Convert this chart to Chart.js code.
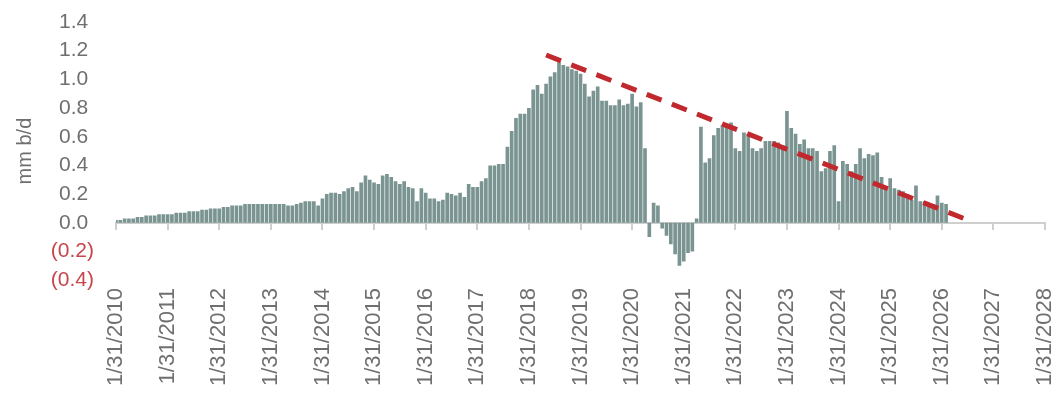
<!DOCTYPE html>
<html>
<head>
<meta charset="utf-8">
<script src="https://cdn.jsdelivr.net/npm/chart.js@4.4.1/dist/chart.umd.min.js"></script>
<style>
  html, body { margin: 0; padding: 0; background: #fff; }
  #wrap { width: 1055px; height: 396px; }
</style>
</head>
<body>
<div id="wrap"><canvas id="supplyChart" width="1055" height="396"></canvas></div>
<script>
// === DATA ===
// monthly change, mm b/d, Jan 2010 .. Feb 2026
const monthlyChange = [
  0.02, 0.02, 0.03, 0.03, 0.03, 0.04, 0.04, 0.05, 0.05, 0.05, 0.06, 0.06, // 2010
  0.06, 0.06, 0.07, 0.07, 0.07, 0.08, 0.08, 0.08, 0.09, 0.09, 0.10, 0.10, // 2011
  0.10, 0.11, 0.11, 0.12, 0.12, 0.12, 0.13, 0.13, 0.13, 0.13, 0.13, 0.13, // 2012
  0.13, 0.13, 0.13, 0.13, 0.12, 0.12, 0.13, 0.14, 0.15, 0.15, 0.15, 0.12, // 2013
  0.17, 0.20, 0.21, 0.21, 0.20, 0.22, 0.24, 0.25, 0.22, 0.28, 0.33, 0.30, // 2014
  0.28, 0.27, 0.33, 0.34, 0.32, 0.29, 0.27, 0.29, 0.25, 0.24, 0.15, 0.24, // 2015
  0.21, 0.17, 0.17, 0.15, 0.16, 0.21, 0.20, 0.19, 0.21, 0.18, 0.27, 0.25, // 2016
  0.25, 0.29, 0.31, 0.40, 0.40, 0.41, 0.41, 0.53, 0.64, 0.73, 0.76, 0.76, // 2017
  0.80, 0.93, 0.96, 0.90, 0.97, 1.02, 1.05, 1.12, 1.10, 1.09, 1.07, 1.06, // 2018
  1.04, 0.97, 0.88, 0.92, 0.95, 0.85, 0.85, 0.82, 0.82, 0.86, 0.82, 0.83, // 2019
  0.90, 0.81, 0.84, 0.52, -0.10, 0.14, 0.12, -0.04, -0.09, -0.15, -0.22, -0.30, // 2020
  -0.27, -0.21, -0.20, 0.03, 0.67, 0.42, 0.45, 0.61, 0.66, 0.68, 0.69, 0.70, // 2021
  0.52, 0.50, 0.63, 0.62, 0.52, 0.50, 0.52, 0.57, 0.57, 0.57, 0.56, 0.54, // 2022
  0.78, 0.66, 0.62, 0.55, 0.58, 0.52, 0.52, 0.50, 0.36, 0.38, 0.50, 0.54, // 2023
  0.15, 0.43, 0.41, 0.36, 0.41, 0.52, 0.45, 0.48, 0.47, 0.49, 0.32, 0.25, // 2024
  0.31, 0.24, 0.23, 0.22, 0.20, 0.16, 0.26, 0.15, 0.15, 0.11, 0.13, 0.19, // 2025
  0.14, 0.13                                                               // 2026
];

// trend line end points: [month label, value]
const trendStart = ["5/31/2018", 1.17];
const trendEnd = ["7/31/2026", 0.02];

const firstYear = 2010;
const lastYear = 2028;

// y axis ticks
const yMin = -0.4;
const yMax = 1.4;
const yStep = 0.2;

// month-end labels, Jan 2010 .. Jan 2028
const monthLabels = [];
for (let y = firstYear; y <= lastYear; y++) {
  for (let m = 0; m < 12; m++) {
    if (y === lastYear && m > 0) break;
    const day = new Date(y, m + 1, 0).getDate();
    monthLabels.push((m + 1) + "/" + day + "/" + y);
  }
}

const trendData = monthLabels.map(l => {
  if (l === trendStart[0]) return trendStart[1];
  if (l === trendEnd[0]) return trendEnd[1];
  return null;
});

const textGray = "#6f6f6f";
const negRed = "#c8454c";
const fontFamily = "Arial, 'Liberation Sans', sans-serif";

new Chart(document.getElementById("supplyChart"), {
  data: {
    labels: monthLabels,
    datasets: [
      {
        type: "line",
        label: "Trend",
        data: trendData,
        spanGaps: true,
        borderColor: "#c0292e",
        borderWidth: 5,
        borderDash: [16, 11],
        pointRadius: 0,
        fill: false,
        order: 0
      },
      {
        type: "bar",
        label: "Change",
        data: monthlyChange,
        backgroundColor: "#7a9491",
        barPercentage: 0.85,
        categoryPercentage: 1.0,
        order: 1
      }
    ]
  },
  options: {
    responsive: false,
    animation: false,
    layout: { padding: { left: 0, right: 0, top: 22, bottom: 2 } },
    plugins: {
      legend: { display: false },
      tooltip: { enabled: false }
    },
    scales: {
      x: {
        type: "category",
        position: "bottom",
        offset: false,
        grid: { display: false, drawTicks: false },
        border: { display: false },
        ticks: {
          autoSkip: false,
          maxRotation: 90,
          minRotation: 90,
          padding: 8,
          color: textGray,
          font: { family: fontFamily, size: 22 },
          callback: function (val, i) {
            return i % 12 === 0 ? this.getLabelForValue(val) : "";
          }
        },
        // keep the plot running to the right edge
        afterFit: scale => {
          scale.paddingLeft = 0;
          scale.paddingRight = 10;
        }
      },
      zeroAxis: {
        type: "category",
        axis: "x",
        position: { y: 0 },
        offset: false,
        grid: {
          drawOnChartArea: false,
          drawTicks: true,
          tickLength: 6,
          lineWidth: 2,
          color: ctx => (ctx.index % 12 === 0 ? "#cfcfcf" : "rgba(0,0,0,0)")
        },
        border: { display: true, color: "#cfcfcf", width: 2 },
        ticks: { display: false }
      },
      y: {
        min: yMin,
        max: yMax,
        grid: { display: false, drawTicks: false },
        border: { display: false },
        title: {
          display: true,
          text: "mm b/d",
          color: textGray,
          font: { family: fontFamily, size: 20 },
          padding: { top: 13, bottom: 13 }
        },
        ticks: {
          autoSkip: false,
          stepSize: yStep,
          padding: 22,
          color: ctx => (ctx.tick.value < -0.001 ? negRed : textGray),
          font: { family: fontFamily, size: 21 },
          callback: v => {
            const n = Math.round(v * 10) / 10;
            return n < 0 ? "(" + Math.abs(n).toFixed(1) + ")" : n.toFixed(1) + " ";
          }
        },
        afterFit: scale => {
          scale.width = 116;
          scale.paddingTop = 0;
          scale.paddingBottom = 0;
        }
      }
    }
  }
});
</script>
</body>
</html>
